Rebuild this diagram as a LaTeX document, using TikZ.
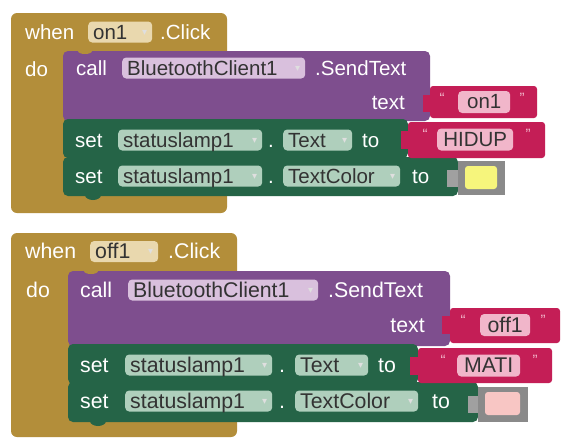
\documentclass[tikz,border=0pt]{standalone}
\usepackage{fontspec}
\setmainfont{Liberation Sans}
\newfontfamily\dv{DejaVu Sans}
\definecolor{gold}{HTML}{B38E3A}
\definecolor{purp}{HTML}{7E4E8E}
\definecolor{grn}{HTML}{256447}
\definecolor{txtred}{HTML}{C41E56}
\definecolor{fgold}{HTML}{E9D8AE}
\definecolor{fpurp}{HTML}{D9C0DD}
\definecolor{fgrn}{HTML}{AFCFBC}
\definecolor{fred}{HTML}{F1B6CA}
\definecolor{cgrey}{HTML}{8A8A8A}
\definecolor{cgreyl}{HTML}{A0A0A0}
\definecolor{swy}{HTML}{F6F57C}
\definecolor{swp}{HTML}{F8C6C4}
\definecolor{ftxt}{HTML}{333333}
\tikzset{
  txt/.style={font=\fontsize{20.5}{22}\selectfont},
  lbl/.style={txt, text=white, inner sep=0pt, anchor=base west},
  lblr/.style={txt, text=white, inner sep=0pt, anchor=base east},
  fld/.style={txt, rounded corners=4pt, inner xsep=5pt, inner ysep=0pt,
    text height=17pt, text depth=2.5pt,
    minimum height=21pt, text=ftxt, anchor=west},
  lit/.style={txt, rounded corners=4pt, inner sep=0pt, minimum height=22pt,
    text=ftxt, anchor=west},
  qt/.style={text=fred, font=\fontsize{15}{15}\selectfont, inner sep=0pt},
  blk/.style={rounded corners=6pt},
}
\newcommand\fld[6]{%
  \pgfmathsetmacro\fldw{#3-#2-10}%
  \node[fld, fill=#5] (#1) at (#2,#4)
    {\makebox[\fldw pt][l]{#6\hfill\raisebox{4pt}{\dv\fontsize{10}{10}\selectfont\textcolor{white!75!gray}{▾}}}};}
\begin{document}
\begin{tikzpicture}[x=1pt,y=-1pt]
\useasboundingbox (0,0) rectangle (561,440);
\fill[white] (0,0) rectangle (561,440);

%% ================= Block 1 =================
\fill[gold, blk] (11,13) rectangle (227,213);
\fill[purp, rounded corners=5pt] (63,51) rectangle (430,121);
\fill[gold] (78,51) arc[start angle=180, end angle=360, x radius=7pt, y radius=3pt];
\fill[grn, rounded corners=5pt] (63,119) rectangle (408,158);
\fill[grn, rounded corners=5pt] (63,157) rectangle (458,196);
\fill[grn] (85,195) arc[start angle=180, end angle=360, x radius=8pt, y radius=5pt];
% text literal on1
\fill[txtred, rounded corners=3pt] (430,86) rectangle (537,118);
\fill[txtred] (423,95) rectangle (431,112);
% text literal HIDUP
\fill[txtred, rounded corners=3pt] (408,122) rectangle (545,158);
\fill[txtred] (401,131) rectangle (409,149);
% colour block
\fill[cgreyl] (447,170) rectangle (459,187);
\fill[cgrey] (458,161) rectangle (505,195);
\fill[swy, rounded corners=3pt] (465,166) rectangle (497,189);

\node[lbl] (a-when) at (25,39.5) {when};
\fld{a-on}{88}{152}{32}{fgold}{on1}
\node[lbl] (a-click) at (160,39.5) {.Click};
\node[lbl] (a-do) at (25,76) {do};
\node[lbl] (a-call) at (76,75.5) {call};
\fld{a-bt}{122}{305}{68}{fpurp}{BluetoothClient1}
\node[lbl] (a-send) at (315,75.5) {.SendText};
\node[lblr] (a-text) at (405,109.5) {text};
\node[qt] (a-q1) at (442,98) {“};
\node[lit, fill=fred, minimum width=52pt] (a-lon) at (458,102) {on1};
\node[qt] (a-q2) at (522,98) {”};

\node[lbl] (a-set1) at (75,147.5) {set};
\fld{a-sl1}{118}{262}{140}{fgrn}{statuslamp1}
\node[lbl] (a-dot1) at (268,147.5) {.};
\fld{a-tx}{283}{352}{140}{fgrn}{Text}
\node[lbl] (a-to1) at (362,147.5) {to};
\node[qt] (a-q3) at (425,134) {“};
\node[lit, fill=fred, minimum width=76pt] (a-hidup) at (437,139.5) {HIDUP};
\node[qt] (a-q4) at (528,134) {”};

\node[lbl] (a-set2) at (75,183.5) {set};
\fld{a-sl2}{118}{262}{176}{fgrn}{statuslamp1}
\node[lbl] (a-dot2) at (268,183.5) {.};
\fld{a-tc}{283}{400}{176}{fgrn}{TextColor}
\node[lbl] (a-to2) at (412,183.5) {to};

%% ================= Block 2 =================
\begin{scope}[txt/.style={font=\fontsize{21.3}{22}\selectfont}]
\fill[gold, blk] (11,233) rectangle (237,437);
\fill[purp, rounded corners=5pt] (68,271) rectangle (450,346);
\fill[gold] (84,271) arc[start angle=180, end angle=360, x radius=7pt, y radius=3pt];
\fill[grn, rounded corners=5pt] (68,344) rectangle (418,384);
\fill[grn, rounded corners=5pt] (68,382) rectangle (478,422);
\fill[grn] (90,421) arc[start angle=180, end angle=360, x radius=8pt, y radius=5pt];
% text literal off1
\fill[txtred, rounded corners=3pt] (450,308) rectangle (560,343);
\fill[txtred] (442,316) rectangle (451,334);
% text literal MATI
\fill[txtred, rounded corners=3pt] (418,348) rectangle (552,383);
\fill[txtred] (410,357) rectangle (419,375);
% colour block
\fill[cgreyl] (468,396) rectangle (479,413);
\fill[cgrey] (478,387) rectangle (528,422);
\fill[swp, rounded corners=3pt] (485,392) rectangle (520,415);

\node[lbl] (b-when) at (25,258.5) {when};
\fld{b-off}{90}{158}{251.5}{fgold}{off1}
\node[lbl] (b-click) at (168,258.5) {.Click};
\node[lbl] (b-do) at (26,297) {do};
\node[lbl] (b-call) at (80,297.5) {call};
\fld{b-bt}{128}{318}{290}{fpurp}{BluetoothClient1}
\node[lbl] (b-send) at (328,297.5) {.SendText};
\node[lblr] (b-text) at (425,332.5) {text};
\node[qt] (b-q1) at (463,320) {“};
\node[lit, fill=fred, minimum width=50pt] (b-loff) at (480,325) {off1};
\node[qt] (b-q2) at (543,320) {”};

\node[lbl] (b-set1) at (80,372.5) {set};
\fld{b-sl1}{125}{272}{365}{fgrn}{statuslamp1}
\node[lbl] (b-dot1) at (279,372.5) {.};
\fld{b-tx}{295}{368}{365}{fgrn}{Text}
\node[lbl] (b-to1) at (378,372.5) {to};
\node[qt] (b-q3) at (443,360) {“};
\node[lit, fill=fred, minimum width=63pt] (b-mati) at (457,365.5) {MATI};
\node[qt] (b-q4) at (535,360) {”};

\node[lbl] (b-set2) at (80,408.5) {set};
\fld{b-sl2}{125}{272}{401}{fgrn}{statuslamp1}
\node[lbl] (b-dot2) at (279,408.5) {.};
\fld{b-tc}{295}{418}{401}{fgrn}{TextColor}
\node[lbl] (b-to2) at (432,408.5) {to};
\end{scope}
\end{tikzpicture}
\end{document}
